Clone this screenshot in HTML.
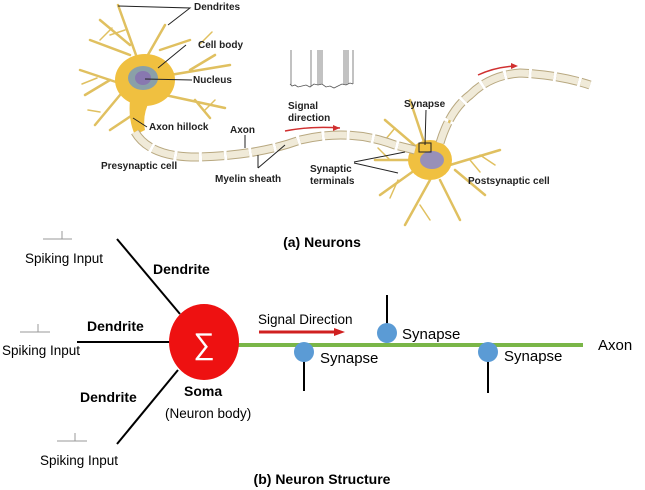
<!DOCTYPE html>
<html><head><style>
body{margin:0;background:#fff;}
svg{display:block;}
.b{font-family:"Liberation Sans",sans-serif;font-weight:bold;font-size:10px;fill:#222;}
.t{font-family:"Liberation Sans",sans-serif;font-size:13.5px;fill:#000;}
.tb{font-family:"Liberation Sans",sans-serif;font-size:14px;font-weight:bold;fill:#000;}
</style></head><body>
<svg width="645" height="490" viewBox="0 0 645 490">
<!-- presynaptic neuron -->
<g stroke="#e0c060" stroke-width="2.5" fill="none" stroke-linecap="round">
<path d="M145,80 L118,5 M130,45 L100,20 M145,60 L165,25 M160,50 L190,40 M170,75 L230,65 M190,70 L215,55 M165,95 L225,108 M195,100 L210,118 M125,85 L80,70 M110,80 L85,95 M120,95 L95,125 M140,110 L110,130 M130,55 L90,40"/>
<path d="M430,160 L410,100 M420,150 L385,120 M410,160 L375,160 M415,170 L380,195 M430,180 L405,225 M440,180 L460,220 M450,165 L500,150 M455,170 L485,195 M440,145 L450,120"/>
</g>
<g stroke="#e0c060" stroke-width="1.5" fill="none" stroke-linecap="round">
<path d="M125,30 L110,35 M112,28 L100,40 M97,78 L82,84 M100,112 L88,110 M205,110 L215,100 M200,44 L212,32 M395,128 L385,140 M390,160 L378,148 M398,180 L390,198 M420,205 L430,220 M470,160 L480,172 M480,155 L495,165"/>
</g>
<ellipse cx="145" cy="80" rx="30" ry="26" fill="#f0c040"/>
<path d="M130,100 Q128,120 135,135 L145,130 Q142,115 150,100 Z" fill="#f0c040"/>
<ellipse cx="143" cy="78" rx="15" ry="12" fill="#8aa0a8"/>
<ellipse cx="143" cy="78" rx="8" ry="7" fill="#8878b0"/>
<ellipse cx="430" cy="160" rx="22" ry="20" fill="#f0c040"/>
<ellipse cx="432" cy="160" rx="12" ry="9" fill="#9890b8"/>
<!-- axon -->
<path d="M135,132 Q150,158 200,157 Q260,155 300,140 Q350,128 395,145 L415,150" stroke="#b8a880" stroke-width="9" fill="none" stroke-dasharray="22,3"/>
<path d="M135,132 Q150,158 200,157 Q260,155 300,140 Q350,128 395,145 L415,150" stroke="#f0ead8" stroke-width="7" fill="none" stroke-dasharray="22,3"/>
<path d="M440,143 Q450,110 470,95 Q490,75 520,73 Q560,75 590,85" stroke="#b8a880" stroke-width="9" fill="none" stroke-dasharray="22,3"/>
<path d="M440,143 Q450,110 470,95 Q490,75 520,73 Q560,75 590,85" stroke="#f0ead8" stroke-width="7" fill="none" stroke-dasharray="22,3"/>
<!-- red arrows -->
<path d="M285,131 Q310,126 340,128" stroke="#d03030" stroke-width="1.5" fill="none"/><path d="M340,128 l-7,-3 l0,6z" fill="#d03030"/>
<path d="M478,75 Q495,67 515,66" stroke="#d03030" stroke-width="1.5" fill="none"/><path d="M518,66 l-7,-3 l0,6z" fill="#d03030"/>
<!-- spikes -->
<path d="M290,84 L292,86 L295,85 L298,87 L302,86 L306,85 L310,87 L314,84 L318,85 L322,84 L326,87 L330,86 L334,88 L338,86 L342,84 L346,85 L350,83 L353,84" stroke="#555" stroke-width="0.8" fill="none"/>
<g stroke="#666" stroke-width="0.8"><path d="M291,85 V50 M311,86 V50 M318,85 V50 M320,85 V50 M322,84 V50 M344,85 V50 M346,85 V50 M348,84 V50 M353,84 V50"/></g>
<!-- leader lines -->
<g stroke="#222" stroke-width="1" fill="none">
<path d="M118,6 L190,8 L168,25 M186,45 L158,68 M192,80 L145,79 M147,127 L133,118 M245,135 L245,148 M258,168 L258,155 M258,168 L285,145 M354,162 L405,152 M354,163 L398,173 M426,110 L425,145"/>
<rect x="419" y="143" width="12" height="9"/>
</g>
<text class="b" x="194" y="10">Dendrites</text>
<text class="b" x="198" y="48">Cell body</text>
<text class="b" x="193" y="83">Nucleus</text>
<text class="b" x="149" y="130">Axon hillock</text>
<text class="b" x="230" y="133">Axon</text>
<text class="b" x="101" y="169">Presynaptic cell</text>
<text class="b" x="215" y="182">Myelin sheath</text>
<text class="b" x="288" y="109">Signal</text>
<text class="b" x="288" y="121">direction</text>
<text class="b" x="404" y="107">Synapse</text>
<text class="b" x="310" y="172">Synaptic</text>
<text class="b" x="310" y="184">terminals</text>
<text class="b" x="468" y="184">Postsynaptic cell</text>
<text class="tb" x="322" y="247" text-anchor="middle">(a) Neurons</text>
<!-- bottom diagram -->
<g stroke="#000" stroke-width="2">
<line x1="117" y1="239" x2="180" y2="314"/>
<line x1="77" y1="342" x2="170" y2="342"/>
<line x1="117" y1="444" x2="178" y2="370"/>
<line x1="387" y1="295" x2="387" y2="330"/>
<line x1="304" y1="355" x2="304" y2="391"/>
<line x1="488" y1="355" x2="488" y2="393"/>
</g>
<g stroke="#999" stroke-width="1" fill="none">
<path d="M43,239 L72,239 M62,239 L62,231"/>
<path d="M20,332 L50,332 M38,332 L38,324"/>
<path d="M57,441 L87,441 M75,441 L75,433"/>
</g>
<line x1="236" y1="345" x2="583" y2="345" stroke="#7ab648" stroke-width="4"/>
<ellipse cx="204" cy="342" rx="35" ry="38" fill="#ee1111"/>
<text x="204" y="354" text-anchor="middle" font-family="DejaVu Sans,sans-serif" font-size="30" fill="#fff" font-weight="200">∑</text>
<line x1="259" y1="332" x2="335" y2="332" stroke="#d02020" stroke-width="3"/>
<path d="M345,332 l-11,-4 l0,8z" fill="#d02020"/>
<circle cx="387" cy="333" r="10" fill="#5b9bd5"/>
<circle cx="304" cy="352" r="10" fill="#5b9bd5"/>
<circle cx="488" cy="352" r="10" fill="#5b9bd5"/>
<text class="t" x="25" y="263">Spiking Input</text>
<text class="t" x="2" y="355">Spiking Input</text>
<text class="t" x="40" y="465">Spiking Input</text>
<text class="tb" x="153" y="274">Dendrite</text>
<text class="tb" x="87" y="331">Dendrite</text>
<text class="tb" x="80" y="402">Dendrite</text>
<text class="t" x="258" y="324">Signal Direction</text>
<text class="tb" x="402" y="339" style="font-weight:normal;font-size:15px">Synapse</text>
<text class="tb" x="320" y="363" style="font-weight:normal;font-size:15px">Synapse</text>
<text class="tb" x="504" y="361" style="font-weight:normal;font-size:15px">Synapse</text>
<text class="tb" x="598" y="350" style="font-weight:normal;font-size:15px">Axon</text>
<text class="tb" x="184" y="396">Soma</text>
<text class="t" x="165" y="418">(Neuron body)</text>
<text class="tb" x="322" y="484" text-anchor="middle">(b) Neuron Structure</text>
</svg>
</body></html>
